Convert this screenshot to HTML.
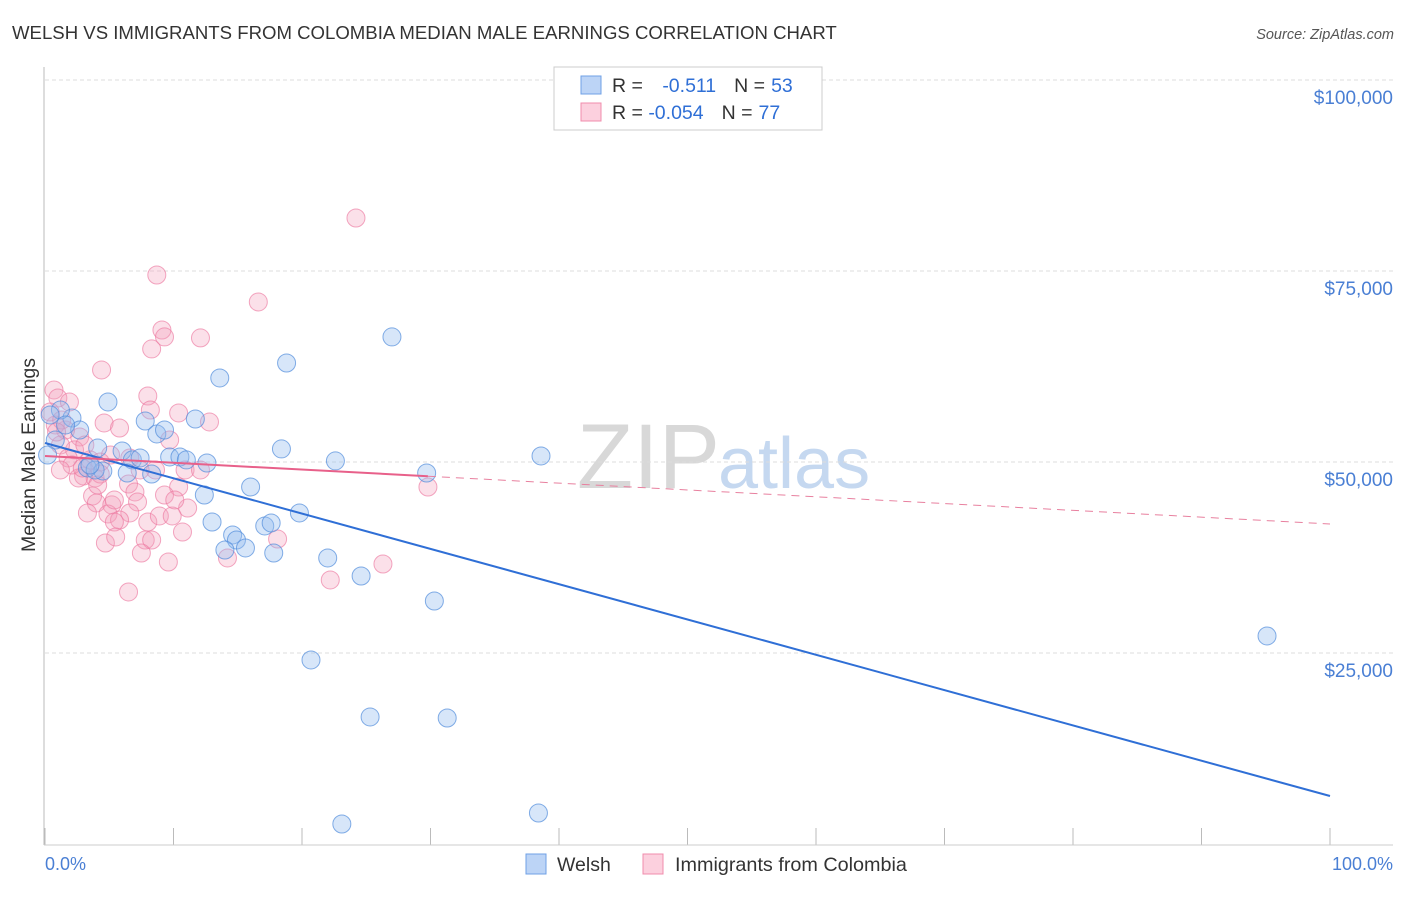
<!DOCTYPE html>
<html><head><meta charset="utf-8"><style>
body{margin:0;background:#fff;font-family:"Liberation Sans",sans-serif;}
svg text{font-family:"Liberation Sans",sans-serif;}
</style></head><body>
<svg id="c" width="1406" height="892">
<text x="12" y="39" font-size="18.6" fill="#333">WELSH VS IMMIGRANTS FROM COLOMBIA MEDIAN MALE EARNINGS CORRELATION CHART</text>
<text x="1394" y="39" font-size="14.5" fill="#555" font-style="italic" text-anchor="end">Source: ZipAtlas.com</text>
<text x="720" y="488" font-size="92" fill="#d8d8d8" text-anchor="end" font-family="Liberation Serif">ZIP</text>
<text x="718" y="488" font-size="72" fill="#c5d8f0">atlas</text>
<g id="grid"></g>
<line x1="44" y1="67" x2="44" y2="845" stroke="#bbb"/>
<line x1="44" y1="845" x2="1393" y2="845" stroke="#ccc"/>
<text transform="translate(35,455) rotate(-90)" font-size="19.5" fill="#333" text-anchor="middle">Median Male Earnings</text>
<text x="45" y="870" font-size="18" fill="#4a7fd4">0.0%</text>
<text x="1393" y="870" font-size="18" fill="#4a7fd4" text-anchor="end">100.0%</text>
<g id="pts"></g>
<g id="lines"></g>
<g>
<rect x="554" y="67" width="268" height="63" fill="#fff" stroke="#ccc"/>
<rect x="581" y="76" width="20" height="18" fill="#bcd4f6" stroke="#6fa0e6"/>
<rect x="581" y="103" width="20" height="18" fill="#fcd0de" stroke="#f08cac"/>
<text x="612" y="92" font-size="19.5" fill="#333">R = <tspan fill="#2f6fd6" dx="14">-0.511</tspan><tspan fill="#333" dx="18">N =</tspan><tspan fill="#2f6fd6" dx="6">53</tspan></text>
<text x="612" y="119" font-size="19.5" fill="#333">R = <tspan fill="#2f6fd6">-0.054</tspan><tspan fill="#333" dx="18">N =</tspan><tspan fill="#2f6fd6" dx="6">77</tspan></text>
</g>
<g>
<rect x="526" y="854" width="20" height="20" fill="#bcd4f6" stroke="#6fa0e6"/>
<text x="557" y="871" font-size="19.5" fill="#333">Welsh</text>
</g>
<g>
<rect x="643" y="854" width="20" height="20" fill="#fcd0de" stroke="#f08cac"/>
<text x="675" y="871" font-size="19.8" fill="#333">Immigrants from Colombia</text>
</g>
</svg>
<script>
const yTicks=[25000,50000,75000,100000];
const yTickLabels=["$25,000","$50,000","$75,000","$100,000"];
const xTicks=[0,10,20,30,40,50,60,70,80,90,100];
const welshX=[4.9,2.1,2.7,7.8,8.7,9.3,11.7,6.0,4.1,6.8,7.4,9.7,10.5,11.0,12.6,8.3,6.4,3.3,4.5,13.6,18.8,27.0,18.4,22.6,38.6,29.7,16.0,12.4,13.0,14.6,14.9,15.6,14.0,17.8,19.8,17.1,17.6,22.0,24.6,30.3,20.7,25.3,31.3,23.1,38.4,95.1,1.2,0.8,0.2,1.6,3.9,0.4,3.5];
const welshY=[57860,55760,54190,55370,53670,54190,55630,51440,51840,50270,50530,50660,50660,50270,49870,48430,48560,49220,48830,61000,62960,66370,51710,50140,50790,48560,46730,45680,42150,40450,39790,38750,38480,38090,43330,41630,42020,37440,35080,31810,24090,16630,16490,2620,4060,27230,56810,52880,50920,54850,48960,56160,49610];
const colX=[24.2,8.7,16.6,9.1,9.3,12.1,8.3,4.4,0.7,1.0,1.9,8.0,10.4,12.8,4.6,5.8,9.7,2.7,1.6,2.3,3.5,4.3,5.1,6.6,0.8,1.2,3.0,3.9,2.6,4.3,10.9,8.6,10.4,6.5,7.0,3.7,4.0,5.2,7.2,6.6,11.1,3.3,4.9,5.8,5.4,8.0,8.9,9.9,10.7,7.8,8.3,4.7,5.5,7.5,9.6,14.2,18.1,22.2,26.3,6.5,29.8,0.4,1.3,1.8,2.1,1.2,2.9,7.4,12.1,0.9,3.1,4.1,5.4,9.3,10.1,8.2];
const colY=[81940,74480,70950,67280,66370,66240,64800,62050,59430,58380,57860,58640,56420,55240,55110,54450,52880,53280,54190,51580,50270,50000,50920,50530,54850,52230,48170,47910,47910,48430,48960,48960,46730,47120,46080,45550,44640,44380,44770,43330,43980,43330,43200,42410,42150,42150,42940,42940,40840,39790,39790,39400,40190,38090,36910,37440,39920,34560,36650,32990,46730,56550,55500,50530,49610,48960,49220,48960,48960,53930,52230,46990,45030,45680,45030,56810];
const welshTrend=[52490,6280];
const colTrend=[50790,41890];
const colSolidEnd=29.8;
const NS="http://www.w3.org/2000/svg";
const X=v=>45+v*12.85;
const Y=v=>844-v/25000*191;
function mk(t,a,p){const e=document.createElementNS(NS,t);for(const k in a)e.setAttribute(k,a[k]);p.appendChild(e);return e;}
const grid=document.getElementById('grid');
yTicks.forEach((t,i)=>{
 const l=mk('line',{x1:45,x2:1393,y1:Y(t),y2:Y(t),stroke:'#ddd','stroke-dasharray':'4,3'},grid);
 
 
 const tx=mk('text',{x:1393,y:Y(t)+24,'font-size':19,fill:'#4a7fd4','text-anchor':'end'},grid);
 tx.textContent=yTickLabels[i];
 
 
});
xTicks.forEach(t=>{
 const l=mk('line',{x1:X(t),x2:X(t),y1:828,y2:845,stroke:'#bbb'},grid);
 
 
});
const pts=document.getElementById('pts');
colX.forEach((x,i)=>{
 const c=mk('circle',{cx:X(x),cy:Y(colY[i]),r:9,fill:'rgba(244,160,188,0.32)',stroke:'rgba(236,120,160,0.65)','stroke-width':1},pts);
 
 
});
welshX.forEach((x,i)=>{
 const c=mk('circle',{cx:X(x),cy:Y(welshY[i]),r:9,fill:'rgba(150,190,240,0.38)',stroke:'rgba(80,140,220,0.7)','stroke-width':1},pts);
 
 
});
const lines=document.getElementById('lines');
const bl=mk('line',{x1:X(0),y1:Y(welshTrend[0]),x2:X(100),y2:Y(welshTrend[1]),stroke:'#2f6fd6','stroke-width':2},lines);


const cv=x=>colTrend[0]+(colTrend[1]-colTrend[0])*x/100;
const pl=mk('line',{x1:X(0),y1:Y(cv(0)),x2:X(colSolidEnd),y2:Y(cv(colSolidEnd)),stroke:'#e8608a','stroke-width':2},lines);


const pd=mk('line',{x1:X(colSolidEnd),y1:Y(cv(colSolidEnd)),x2:X(100),y2:Y(cv(100)),stroke:'#e8809f','stroke-width':1,'stroke-dasharray':'8,6'},lines);


</script>
</body></html>
